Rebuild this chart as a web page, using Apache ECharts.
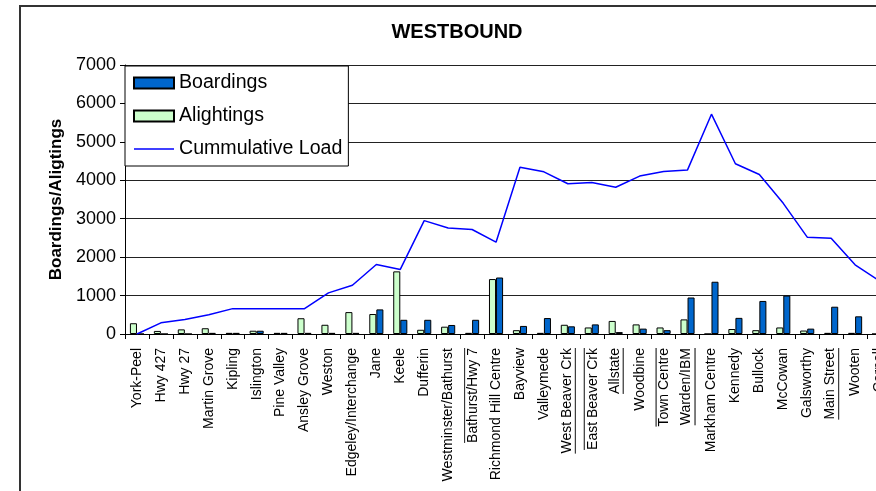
<!DOCTYPE html>
<html>
<head>
<meta charset="utf-8">
<script src="https://cdn.jsdelivr.net/npm/echarts@6/dist/echarts.min.js"></script>
<style>
  html, body { margin: 0; padding: 0; background: #fff; overflow: hidden; }
  #frame { position: absolute; left: 19px; top: 5px; width: 900px; height: 520px;
           border-left: 2px solid #333; border-top: 2px solid #333; }
  #chart { position: absolute; left: 0; top: 0; width: 876px; height: 491px; }
</style>
</head>
<body>
<div id="frame"></div>
<div id="chart"></div>
<script>
const title = 'WESTBOUND';
const yAxisTitle = 'Boardings/Aligtings';
const stations = ['York-Peel','Hwy 427','Hwy 27','Martin Grove','Kipling','Islington','Pine Valley','Ansley Grove','Weston','Edgeley/Interchange','Jane','Keele','Dufferin','Westminster/Bathurst','Bathurst/Hwy 7','Richmond Hill Centre','Bayview','Valleymede','West Beaver Crk','East Beaver Crk','Allstate','Woodbine','Town Centre','Warden/IBM','Markham Centre','Kennedy','Bullock','McCowan','Galsworthy','Main Street','Wooten','Cornell'];
const alightings = [280, 80, 120, 150, 30, 85, 30, 410, 240, 570, 520, 1630, 110, 190, 30, 1430, 100, 30, 240, 170, 340, 250, 170, 380, 0, 130, 100, 170, 90, 30, 30, 0];
const boardings  = [0, 0, 0, 30, 30, 85, 30, 30, 30, 30, 640, 370, 370, 235, 370, 1470, 210, 415, 200, 250, 50, 140, 100, 950, 1360, 420, 860, 1000, 140, 710, 460, 0];
const cumulativeLoad = [0, 290, 380, 500, 660, 660, 660, 660, 1070, 1270, 1810, 1680, 2950, 2760, 2720, 2390, 4340, 4220, 3910, 3940, 3820, 4110, 4230, 4270, 5720, 4430, 4150, 3400, 2520, 2490, 1800, 1390];
const yTicks = [0, 1000, 2000, 3000, 4000, 5000, 6000, 7000];
const underlined = ['West Beaver Crk', 'Allstate', 'Warden/IBM', 'Main Street'];
const overlined = ['Bathurst/Hwy 7', 'East Beaver Crk', 'Town Centre'];

const FONT = 'Arial, "Liberation Sans", sans-serif';
const chart = echarts.init(document.getElementById('chart'), null, { renderer: 'canvas' });
chart.setOption({
  animation: false,
  textStyle: { fontFamily: FONT, color: '#000' },
  title: {
    text: title, left: 457, top: 22, textAlign: 'center', padding: 0,
    textStyle: { fontFamily: FONT, fontSize: 20, fontWeight: 'bold', color: '#000' }
  },
  legend: {
    orient: 'vertical', left: 125, top: 66,
    data: [
      { name: 'Boardings', icon: 'rect' },
      { name: 'Alightings', icon: 'rect' },
      { name: 'Cummulative Load', icon: 'path://M0,0 L40,0 L40,1.6 L0,1.6 Z' }
    ],
    symbolKeepAspect: true,
    backgroundColor: '#fff', borderColor: '#000', borderWidth: 1, borderRadius: 0,
    padding: [7, 6, 7, 8], itemGap: 13, itemWidth: 40, itemHeight: 11,
    textStyle: { fontFamily: FONT, fontSize: 19.6, lineHeight: 20, color: '#000' }
  },
  grid: { left: 125, right: -15, top: 65, bottom: 157, containLabel: false, outerBoundsMode: 'none' },
  xAxis: {
    type: 'category', data: stations, boundaryGap: true,
    axisLine: { show: true, lineStyle: { color: '#000', width: 1 } },
    axisTick: { show: true, length: 5, interval: 0, alignWithLabel: false, lineStyle: { color: '#000' } },
    axisLabel: {
      interval: 0, rotate: 90, margin: 14, fontFamily: FONT, fontSize: 14, color: '#000',
      formatter: function (v) {
        if (underlined.indexOf(v) >= 0) return '{t|' + v + '}\n{hr|}';
        if (overlined.indexOf(v) >= 0) return '{hr|}\n{t|' + v + '}';
        return v;
      },
      rich: {
        t: { fontFamily: FONT, fontSize: 14, color: '#000', lineHeight: 15 },
        hr: { width: '100%', height: 0, lineHeight: 2, borderColor: '#000', borderWidth: 0.6 }
      }
    },
    splitLine: { show: false }
  },
  yAxis: {
    type: 'value', min: yTicks[0], max: yTicks[yTicks.length - 1], interval: 1000,
    name: yAxisTitle, nameLocation: 'middle', nameGap: 57,
    nameTextStyle: { fontFamily: FONT, fontSize: 17, fontWeight: 'bold', color: '#000' },
    axisLine: { show: true, lineStyle: { color: '#000', width: 1 } },
    axisTick: { show: true, length: 5, lineStyle: { color: '#000' } },
    axisLabel: { fontFamily: FONT, fontSize: 18, color: '#000', margin: 9,
                 formatter: function (v) { return String(v); } },
    splitLine: { show: true, lineStyle: { color: '#222', width: 1 } }
  },
  series: [
    {
      name: 'Alightings', type: 'bar', data: alightings,
      barGap: '0%', barCategoryGap: '41%',
      itemStyle: { color: '#CCFFCC', borderColor: '#000', borderWidth: 1 }
    },
    {
      name: 'Boardings', type: 'bar', data: boardings,
      barGap: '0%', barCategoryGap: '41%',
      itemStyle: { color: '#0066CC', borderColor: '#000', borderWidth: 1 }
    },
    {
      name: 'Cummulative Load', type: 'line', data: cumulativeLoad,
      symbol: 'none', lineStyle: { color: '#0000FF', width: 1.5 }, itemStyle: { color: '#0000FF' },
      z: 5
    }
  ]
});
</script>
</body>
</html>
